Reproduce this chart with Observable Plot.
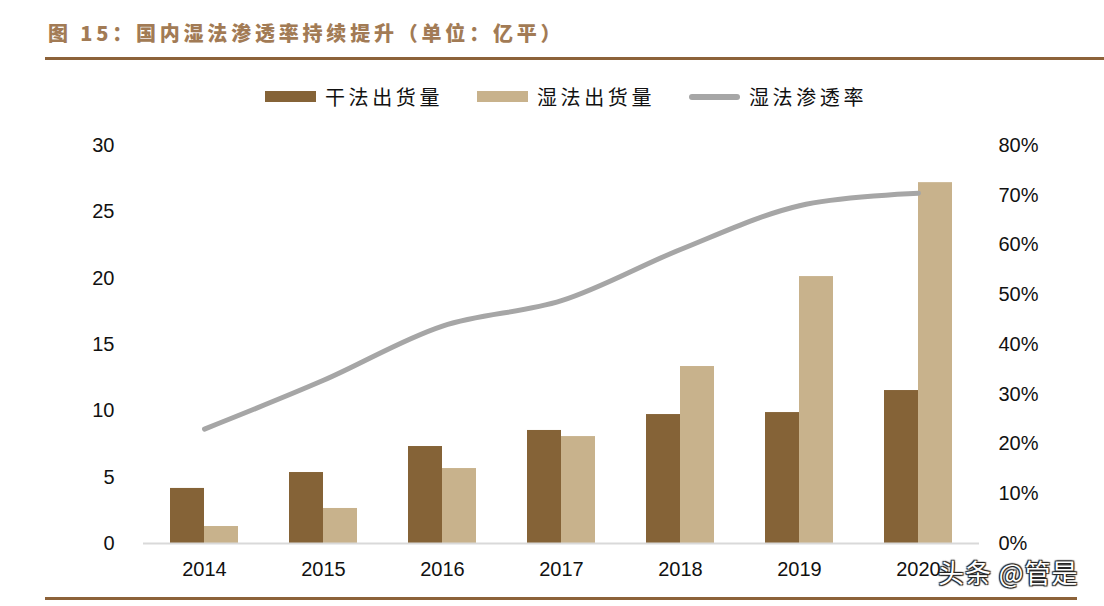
<!DOCTYPE html>
<html>
<head>
<meta charset="utf-8">
<script src="https://cdn.jsdelivr.net/npm/d3@7"></script>
<script src="https://cdn.jsdelivr.net/npm/@observablehq/plot@0.6"></script>
<style>
  body { margin: 0; background: #fff; }
  #wrap { position: relative; width: 1104px; height: 606px; background: #fff; overflow: hidden; font-family: "Noto Sans CJK SC", sans-serif; }
  #title { position: absolute; left: 48px; top: 18px; font-size: 20px; font-weight: 900; color: #a27b55; letter-spacing: 3.8px; white-space: nowrap; }
  .rule { position: absolute; background: #8c6239; }
  #legend { position: absolute; top: 82px; left: 265px; display: flex; align-items: center; font-size: 20px; letter-spacing: 3.6px; color: #111; white-space: nowrap; }
  .sw { display: inline-block; width: 51px; height: 11px; margin-right: 9px; }
  .item { display: flex; align-items: center; margin-right: 34px; }
  #chart { position: absolute; left: 0; top: 120px; }
  #wm { position: absolute; left: 938px; top: 561px; font-size: 26px; line-height: 22px; height: 22px; color: #fff; letter-spacing: 1px; text-shadow: 0 0 1px #222, 1px 1px 1px #222, -1px -1px 1px #222, 1px -1px 1px #222, -1px 1px 1px #222; white-space: nowrap; }
</style>
</head>
<body>
<div id="wrap">
  <div id="title">图 15：国内湿法渗透率持续提升（单位：亿平）</div>
  <div class="rule" style="left:45px; top:57px; width:1059px; height:3px;"></div>
  <div id="legend"></div>
  <div id="chart"></div>
  <div class="rule" style="left:45px; top:597px; width:1032px; height:3px;"></div>
  <div id="wm">头条 @管是</div>
</div>
<script>
const years = ["2014", "2015", "2016", "2017", "2018", "2019", "2020"];
const dryValues = [4.15, 5.35, 7.31, 8.52, 9.72, 9.87, 11.53];
const wetValues = [1.28, 2.64, 5.65, 8.06, 13.34, 20.12, 27.2];
const wetShare = [23.0, 32.8, 43.7, 48.8, 59.1, 67.9, 70.4];
const leftTicks = [0, 5, 10, 15, 20, 25, 30];
const rightTicks = [0, 10, 20, 30, 40, 50, 60, 70, 80];
const seriesNames = ["干法出货量", "湿法出货量", "湿法渗透率"];
const colors = ["#856337", "#c8b28c", "#a6a6a6"];

const leftMax = 30, rightMax = 80;
const toLeft = p => p * leftMax / rightMax;

const bars = years.map((y, i) => ({year: y, dry: dryValues[i], wet: wetValues[i], share: toLeft(wetShare[i])}));

// legend
const lg = document.getElementById("legend");
seriesNames.forEach((n, i) => {
  const it = document.createElement("div");
  it.className = "item";
  const sw = document.createElement("span");
  sw.className = "sw";
  sw.style.background = colors[i];
  if (i === 2) { sw.style.height = "6px"; sw.style.borderRadius = "3px"; }
  it.appendChild(sw);
  const t = document.createElement("span");
  t.textContent = n;
  it.appendChild(t);
  lg.appendChild(it);
});

const bw = 68;
const chart = Plot.plot({
  width: 1104,
  height: 470,
  marginLeft: 143,
  marginRight: 125,
  marginTop: 25,
  marginBottom: 47,
  style: {fontFamily: "'Liberation Sans', Arial, sans-serif", fontSize: "20px", color: "#111", background: "transparent"},
  x: {domain: years, paddingInner: 0.43, paddingOuter: 0.216, label: null},
  y: {domain: [0, leftMax], label: null},
  marks: [
    Plot.barY(bars, {x: "year", y: "dry", fill: colors[0], insetRight: bw / 2}),
    Plot.barY(bars, {x: "year", y: "wet", fill: colors[1], insetLeft: bw / 2}),
    Plot.ruleY([0], {stroke: "#d9d9d9", strokeWidth: 2}),
    Plot.line(bars, {x: "year", y: "share", stroke: colors[2], strokeWidth: 5, strokeLinecap: "round", strokeLinejoin: "round", curve: "catmull-rom"}),
    Plot.axisX({tickSize: 0, tickPadding: 18, label: null, fontSize: 20}),
    Plot.axisY({ticks: leftTicks, tickSize: 0, tickPadding: 29, label: null, fontSize: 20}),
    Plot.axisY({anchor: "right", ticks: rightTicks.map(toLeft), tickFormat: d => Math.round(d * rightMax / leftMax) + "%", tickSize: 0, tickPadding: 19, label: null, fontSize: 20})
  ]
});
document.getElementById("chart").appendChild(chart);
</script>
</body>
</html>
